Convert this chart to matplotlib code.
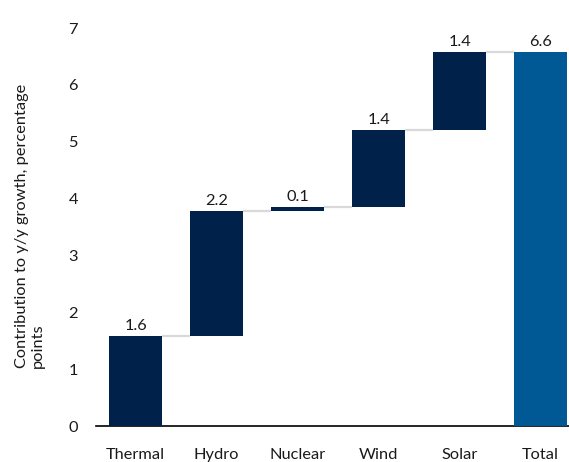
import numpy as np
import matplotlib.pyplot as plt

# contributions to y/y growth by source, percentage points
sources = ["Thermal", "Hydro", "Nuclear", "Wind", "Solar"]
contrib = [1.58, 2.20, 0.07, 1.35, 1.38]

plt.rcParams['font.family'] = ['Lato', 'DejaVu Sans']

labels = sources + ["Total"]
ends = np.cumsum(contrib)
starts = ends - np.array(contrib)
total = ends[-1]

fig = plt.figure(figsize=(5.69, 4.62), dpi=100)
ax = fig.add_axes([96 / 569, 36 / 462, 1 - 96 / 569, (426 - 28) / 462])

navy = "#00214a"
blue = "#005894"
w = 0.65
x = np.arange(len(labels))
fs = 11.8
txt = "#1a1a1a"

ax.bar(x[:-1], contrib, bottom=starts, width=w, color=navy, zorder=3)
ax.bar(x[-1], total, width=w, color=blue, zorder=3)

# connectors between steps
for i in range(len(sources)):
    ax.plot([x[i] + w / 2, x[i + 1] - w / 2], [ends[i], ends[i]],
            color="#d9d9d9", lw=1.6, zorder=2, solid_capstyle="butt")

vals = list(contrib) + [total]
tops = list(ends) + [total]
for xi, v, t in zip(x, vals, tops):
    ax.text(xi, t + 0.05, f"{v:.1f}", ha="center", va="bottom",
            fontsize=fs, color=txt)

ax.set_xlim(-0.49, 5.35)
ax.set_ylim(0, 7)
ax.set_xticks(x)
ax.set_xticklabels(labels, fontsize=fs, color=txt)
ax.set_yticks(range(8))
ax.set_yticklabels([str(i) for i in range(8)], fontsize=fs, color=txt)
ax.tick_params(axis="both", length=0)
ax.tick_params(axis="y", pad=13)
ax.tick_params(axis="x", pad=16)

for s in ["top", "right", "left"]:
    ax.spines[s].set_visible(False)
ax.spines["bottom"].set_color("#000000")
ax.spines["bottom"].set_linewidth(1.2)

fig.text(30 / 569, 1 - 226 / 462, "Contribution to y/y growth, percentage\npoints",
         rotation=90, ha="center", va="center", multialignment="left",
         fontsize=fs, color=txt, linespacing=1.25)

fig.savefig("out.png", dpi=100)
